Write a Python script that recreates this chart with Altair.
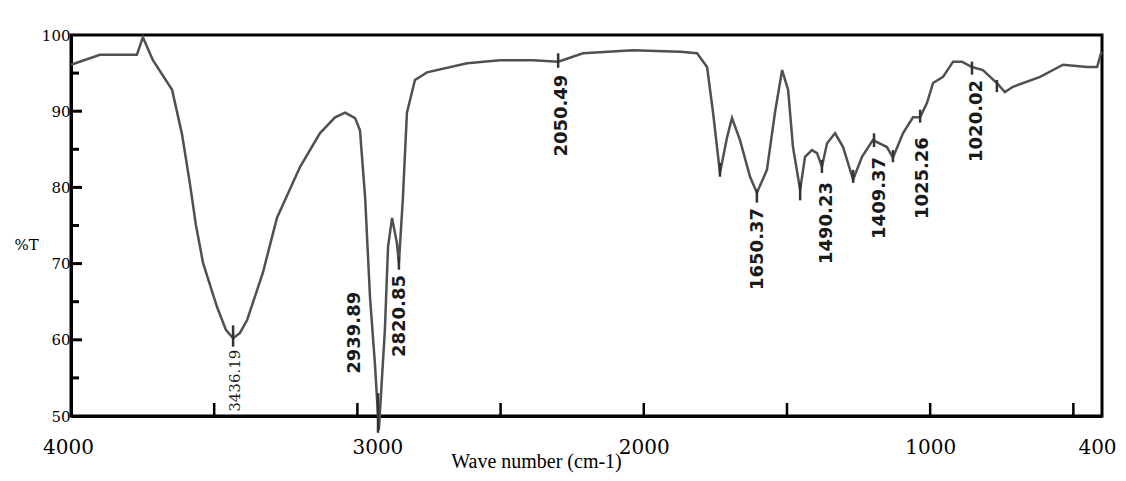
import altair as alt
import pandas as pd

# ---- spectrum (wavenumber cm-1, %T) ----
wavenumber = [4000, 3899, 3770, 3749, 3714, 3647, 3612, 3584, 3564, 3539, 3490, 3459,
              3434, 3410, 3385, 3330, 3281, 3200, 3131, 3078, 3043, 3008, 2991, 2973,
              2956, 2939, 2925, 2904, 2893, 2879, 2862, 2855, 2841, 2827, 2799, 2757,
              2617, 2502, 2387, 2299, 2212, 2038, 1873, 1814, 1779, 1758, 1734, 1709,
              1692, 1664, 1629, 1605, 1570, 1542, 1517, 1496, 1479, 1454, 1437, 1413,
              1395, 1378, 1360, 1332, 1304, 1269, 1238, 1200, 1151, 1130, 1095, 1060,
              1035, 1011, 990, 955, 920, 889, 854, 816, 767, 739, 711, 616, 536, 452,
              417, 402]
transmittance = [96.1, 97.4, 97.4, 99.7, 96.7, 92.8, 86.9, 80.3, 75.1, 70.1, 64.3, 61.3,
                 60.2, 60.9, 62.6, 68.8, 76.0, 82.7, 87.1, 89.2, 89.8, 89.1, 87.5, 78.7,
                 65.6, 57.0, 48.2, 61.3, 72.2, 76.0, 72.7, 70.1, 78.7, 89.8, 94.1, 95.1,
                 96.3, 96.7, 96.7, 96.5, 97.6, 98.0, 97.8, 97.6, 95.8, 89.8, 81.9, 86.6,
                 89.1, 86.2, 81.4, 79.3, 82.3, 89.8, 95.4, 92.8, 85.3, 79.7, 84.0, 84.9,
                 84.5, 82.7, 85.8, 87.1, 85.3, 81.0, 84.0, 86.2, 85.3, 83.9, 87.1, 89.2,
                 89.2, 91.1, 93.7, 94.5, 96.5, 96.5, 95.8, 95.4, 93.7, 92.5, 93.2, 94.5,
                 96.1, 95.8, 95.8, 97.8]

# ---- peak annotations ----
peak_labels = ["2939.89", "2820.85", "2050.49", "1650.37", "1490.23", "1409.37",
               "1025.26", "1020.02"]
peak_label_wn = [3008, 2851, 2286, 1601, 1360, 1175, 1025, 836]
peak_label_t = [66.3, 68.5, 94.8, 77.3, 80.7, 84.0, 86.6, 94.1]

main_peak_label = ["3436.19"]
main_peak_wn = [3427]
main_peak_t = [58.7]

# ---- small peak marker strokes ----
marker_wn = [3434, 2928, 2855, 2299, 1734, 1605, 1454, 1378, 1269, 1196, 1130, 1035, 854, 767]
marker_top = [61.9, 53.0, 70.9, 97.6, 83.2, 79.7, 80.6, 83.6, 82.3, 87.1, 84.9, 90.2, 96.5, 94.1]
marker_bottom = [59.1, 47.8, 69.2, 95.7, 81.4, 78.0, 78.3, 81.9, 80.6, 85.3, 83.3, 88.5, 94.8, 92.5]

# ---- axes ----
x_label_values = [4000, 3000, 2000, 1000, 400]
x_tick_values = [3500, 3000, 2500, 2000, 1500, 1000, 500]
y_label_values = [50, 60, 70, 80, 90, 100]
y_major_ticks = [60, 70, 80, 90]
y_minor_ticks = [55, 65, 75, 85, 95]

spec_df = pd.DataFrame({"wn": wavenumber, "t": transmittance})
lab_df = pd.DataFrame({"label": peak_labels, "wn": peak_label_wn, "t": peak_label_t})
main_df = pd.DataFrame({"label": main_peak_label, "wn": main_peak_wn, "t": main_peak_t})
mark_df = pd.DataFrame({"wn": marker_wn, "t1": marker_top, "t2": marker_bottom})
xt_df = pd.DataFrame({"wn": x_tick_values})
ymaj_df = pd.DataFrame({"t": y_major_ticks})
ymin_df = pd.DataFrame({"t": y_minor_ticks})

xscale = alt.Scale(domain=[4000, 400], nice=False, zero=False)
yscale = alt.Scale(domain=[50, 100], nice=False, zero=False)

xaxis = alt.Axis(
    values=x_label_values, format="d", grid=False, ticks=False,
    domainColor="black", domainWidth=3,
    labelFont="DejaVu Serif", labelFontSize=20, labelColor="black",
    labelPadding=21, labelFlush=False, labelOverlap=False,
    labelOffset={"condition": [{"test": "datum.value == 3000", "value": 20},
                               {"test": "datum.value == 400", "value": -5},
                               {"test": "datum.value == 4000", "value": -3}],
                 "value": 0},
    title="Wave number (cm-1)", titleFont="Liberation Serif", titleFontSize=20,
    titleFontWeight="normal", titleColor="black", titleX=465, titleY=51,
    titleBaseline="alphabetic",
)
yaxis = alt.Axis(
    values=y_label_values, grid=False, ticks=False,
    domainColor="black", domainWidth=3,
    labelFont="DejaVu Serif", labelFontSize=15, labelColor="black", labelPadding=1,
    title="%T", titleAngle=0, titleX=-45, titleY=209, titleFont="DejaVu Serif",
    titleFontSize=15, titleFontWeight="normal", titleColor="black",
    titleAlign="center", titleBaseline="middle",
)

line = alt.Chart(spec_df).mark_line(color="#505050", strokeWidth=2.5, clip=False).encode(
    x=alt.X("wn:Q", scale=xscale, axis=xaxis),
    y=alt.Y("t:Q", scale=yscale, axis=yaxis),
)

markers = alt.Chart(mark_df).mark_rule(color="#333333", strokeWidth=2.5).encode(
    x=alt.X("wn:Q", scale=xscale),
    y=alt.Y("t1:Q", scale=yscale),
    y2="t2:Q",
)

labels = alt.Chart(lab_df).mark_text(
    angle=270, align="right", baseline="middle", font="DejaVu Sans",
    fontWeight="bold", fontSize=18, color="#1a1a1a",
).encode(
    x=alt.X("wn:Q", scale=xscale),
    y=alt.Y("t:Q", scale=yscale),
    text="label:N",
)

main_label = alt.Chart(main_df).mark_text(
    angle=270, align="right", baseline="middle", font="DejaVu Serif",
    fontSize=15, color="#1a1a1a",
).encode(
    x=alt.X("wn:Q", scale=xscale),
    y=alt.Y("t:Q", scale=yscale),
    text="label:N",
)

xticks = alt.Chart(xt_df).mark_rule(color="black", strokeWidth=2.5).encode(
    x=alt.X("wn:Q", scale=xscale),
    y=alt.value(381), y2=alt.value(368),
)
ymaj = alt.Chart(ymaj_df).mark_rule(color="black", strokeWidth=3).encode(
    y=alt.Y("t:Q", scale=yscale),
    x=alt.value(0), x2=alt.value(11),
)
ymin = alt.Chart(ymin_df).mark_rule(color="black", strokeWidth=3).encode(
    y=alt.Y("t:Q", scale=yscale),
    x=alt.value(0), x2=alt.value(8),
)

chart = alt.layer(line, markers, labels, main_label, xticks, ymaj, ymin).properties(
    width=1031, height=381,
    autosize=alt.AutoSizeParams(type="none"),
    padding={"left": 63, "top": 27, "right": 16, "bottom": 57},
    background="white",
).configure_view(stroke="black", strokeWidth=3)

chart.save("out.html", embed_options={"renderer": "svg", "actions": False})
